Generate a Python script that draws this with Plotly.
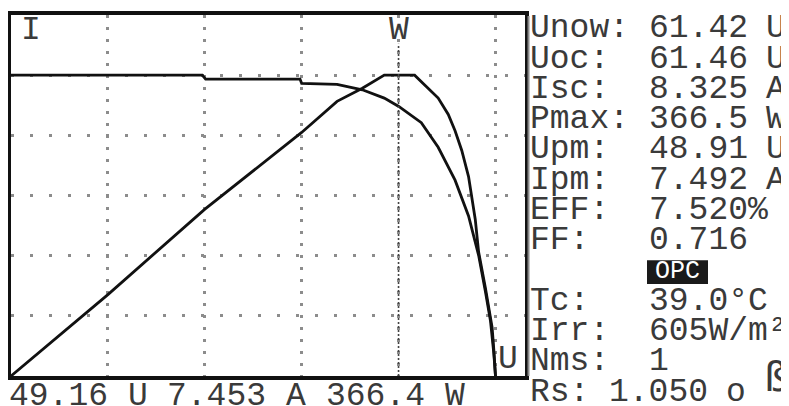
import plotly.graph_objects as go

VOC = 61.46      # V
ISC = 8.325      # A
PMAX = 366.5     # W
CURSOR_V = 49.16

# I-V curve
iv_voltage = [0.0, 24.26, 24.69, 36.66, 36.87, 41.36, 44.57, 47.35, 49.19, 52.05,
              54.19, 56.33, 58.04, 59.32, 60.18, 60.82, 61.25, 61.46]
iv_current = [8.325, 8.325, 8.216, 8.216, 8.10, 8.07, 7.92, 7.69, 7.46, 7.01,
              6.33, 5.42, 4.43, 3.34, 2.34, 1.53, 0.62, 0.0]

# P-V curve
pv_voltage = [0.0, 12.29, 24.56, 36.87, 41.36, 44.57, 47.35, 49.19, 51.2, 52.48,
              54.19, 55.47, 56.33, 57.18, 58.04, 58.89, 59.32, 60.18, 61.03, 61.25, 61.46]
pv_power = [0.0, 99.2, 203.0, 296.7, 334.6, 350.6, 366.5, 366.4, 366.5, 354.6,
            338.6, 318.6, 298.7, 274.8, 242.9, 191.0, 151.0, 107.2, 59.3, 31.4, 0.0]

# side panel: label, value, unit
panel_labels = ["Unow:", "Uoc:", "Isc:", "Pmax:", "Upm:", "Ipm:", "EFF:", "FF:", "",
                "Tc:", "Irr:", "Nms:", "Rs:"]
panel_values = ["61.42", "61.46", "8.325", "366.5", "48.91", "7.492", "7.520%", "0.716", "",
                "39.0\u00b0C", "605W/m\u00b2", "1", "1.050"]
panel_units = ["U", "U", "A", "W", "U", "A", "", "", "", "", "", "", "o"]
status_text = "OPC"
readout_parts = ["49.16", "U", "7.453", "A", "366.4", "W"]

# ---- layout helpers (reference pixel -> paper) ----
W, H = 789, 406
OFF = 8                        # page body margin in the browser
L, R, T, B = 11, 525, 11, 376  # plot frame in reference pixels
CELL = 19.8                    # character cell of the LCD font, px
def px(x):
    return (x - L) / (R - L)
def py(y):
    return (B - y) / (B - T)

FONT = "Liberation Mono"
TXT = "#3a3a3a"

x_div = VOC / 5
y_div = ISC / 5
p_div = PMAX / 5
x_max = (R - L) / 96.9 * x_div

fig = go.Figure()
fig.add_trace(go.Scatter(x=iv_voltage, y=iv_current, mode="lines",
                         line=dict(color="#111111", width=2.8), yaxis="y",
                         showlegend=False, hoverinfo="skip"))
fig.add_trace(go.Scatter(x=pv_voltage, y=pv_power, mode="lines",
                         line=dict(color="#111111", width=2.8), yaxis="y2",
                         showlegend=False, hoverinfo="skip"))

fig.update_layout(
    width=W, height=H,
    margin=dict(l=L - OFF, r=W - (R - OFF), t=T - OFF, b=H - (B - OFF), pad=0),
    paper_bgcolor="white", plot_bgcolor="white",
    xaxis=dict(range=[0, x_max], tick0=0, dtick=x_div, showgrid=True,
               gridcolor="#8c8c8c", gridwidth=3, griddash="3px,9px",
               showticklabels=False, ticks="", zeroline=False,
               showline=True, mirror=True, linecolor="#111111", linewidth=3.5),
    yaxis=dict(range=[0, 6 * y_div], tick0=0, dtick=y_div, showgrid=True,
               gridcolor="#8c8c8c", gridwidth=3, griddash="3px,16px",
               showticklabels=False, ticks="", zeroline=False,
               showline=True, mirror=True, linecolor="#111111", linewidth=3.5),
    yaxis2=dict(range=[0, 6 * p_div], overlaying="y", side="right",
                showgrid=False, showticklabels=False, ticks="", zeroline=False,
                showline=False),
)

# cursor line
fig.add_shape(type="line", xref="x", yref="y domain", x0=CURSOR_V, x1=CURSOR_V,
              y0=0, y1=py(40), line=dict(color="#444444", width=1.6, dash="2px,2px"))
# grey shadow right of the frame
fig.add_shape(type="line", xref="paper", yref="paper", x0=px(528.5), x1=px(528.5),
              y0=py(376), y1=py(12), line=dict(color="#8a8a8a", width=2))

ann = []
def label(text, x, y, size=33, color=TXT, xanchor="center", xref="paper", family=FONT):
    ann.append(dict(text=text, x=x, y=y, xref=xref, yref="paper", showarrow=False,
                    xanchor=xanchor, yanchor="middle",
                    font=dict(family=family, size=size, color=color)))

label("I", px(31), py(27))
label("W", CURSOR_V, py(27), xref="x")
label("U", px(508), py(359))

COL0 = 528
for i, (lab, val, unit) in enumerate(zip(panel_labels, panel_values, panel_units)):
    y = py(25 + i * 30.6)
    last = i == len(panel_labels) - 1
    if lab:
        label(lab, px(COL0), y, xanchor="left")
    if val:
        label(val, px(COL0 + (4 if last else 6) * CELL), y, xanchor="left")
    if unit:
        label(unit, px(COL0 + (10 if last else 12) * CELL - 2), y, xanchor="left")

# status box
fig.add_shape(type="rect", xref="paper", yref="paper", x0=px(647), x1=px(708),
              y0=py(283), y1=py(259), fillcolor="#1a1a1a", line=dict(width=0))
label(status_text, px(677.5), py(270), size=25, color="white")

label("\u00df", px(776), py(377), size=40, family="DejaVu Sans Mono")

for text, cell in zip(readout_parts, [0, 6, 8, 14, 16, 22]):
    label(text, px(7 + cell * CELL), py(397), xanchor="left")

fig.update_layout(annotations=ann)
fig.write_html("out.html")
